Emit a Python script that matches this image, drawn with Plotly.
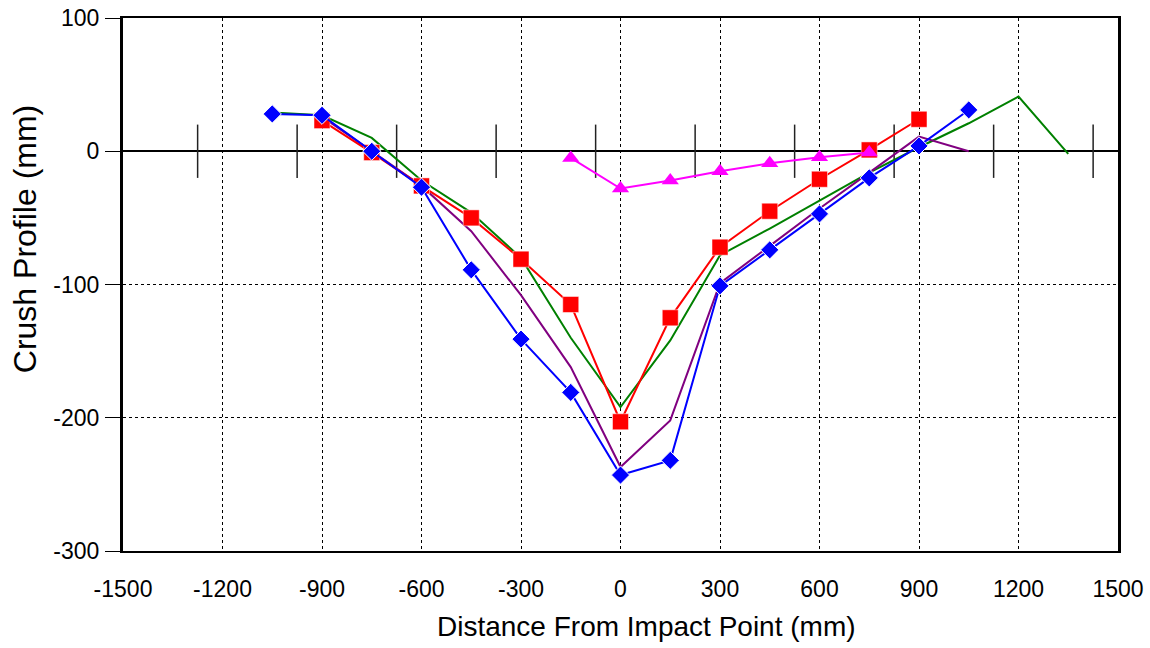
import plotly.graph_objects as go

# ---- data ----
blue_x = [-1050, -900, -750, -600, -450, -300, -150, 0, 150, 300, 450, 600, 750, 900, 1050]
blue_y = [28, 27, 0, -27, -89, -141, -181, -243, -232, -101, -74, -47, -20, 4, 31]

red_x = [-900, -750, -600, -450, -300, -150, 0, 150, 300, 450, 600, 750, 900]
red_y = [23, -1, -26, -50, -81, -115, -203, -125, -72, -45, -21, 1, 24]

magenta_x = [-150, 0, 150, 300, 450, 600, 750]
magenta_y = [-5, -28, -22, -15, -9, -4.5, -1]

green_x = [-1050, -900, -750, -600, -450, -300, -150, 0, 150, 300, 450, 600, 750, 900, 1050, 1200, 1350]
green_y = [29, 27, 10, -22, -46, -80, -140, -192, -142, -78, -58, -37, -16, 3, 21, 41, -2]

purple_x = [-900, -750, -600, -450, -300, -150, 0, 150, 300, 450, 600, 750, 900, 1050]
purple_y = [26, 0, -26, -60, -108, -162, -237, -202, -99, -71, -43, -16, 11, 0]

# reference marks along zero line
mark_x = [-1275, -975, -675, -375, -75, 225, 525, 825, 1125, 1425]
mark_half = 20

x_ticks = [-1500, -1200, -900, -600, -300, 0, 300, 600, 900, 1200, 1500]
y_ticks = [100, 0, -100, -200, -300]

x_title = "Distance From Impact Point (mm)"
y_title = "Crush Profile (mm)"

# ---- figure ----
fig = go.Figure()

mx, my = [], []
for v in mark_x:
    mx += [v, v, None]
    my += [-mark_half, mark_half, None]
fig.add_trace(go.Scatter(x=mx, y=my, mode="lines",
                         line=dict(color="#222222", width=1.5), hoverinfo="skip"))

fig.add_trace(go.Scatter(x=green_x, y=green_y, mode="lines",
                         line=dict(color="#008000", width=2)))
fig.add_trace(go.Scatter(x=purple_x, y=purple_y, mode="lines",
                         line=dict(color="#800080", width=2)))
fig.add_trace(go.Scatter(x=red_x, y=red_y, mode="lines+markers",
                         line=dict(color="#FF0000", width=2),
                         marker=dict(symbol="square", size=16, color="#FF0000",
                                     line=dict(color="white", width=0.5))))
fig.add_trace(go.Scatter(x=blue_x, y=blue_y, mode="lines+markers",
                         line=dict(color="#0000FF", width=2),
                         marker=dict(symbol="diamond", size=14, color="#0000FF",
                                     line=dict(color="white", width=1))))
fig.add_trace(go.Scatter(x=magenta_x, y=magenta_y, mode="lines+markers",
                         line=dict(color="#FF00FF", width=2),
                         marker=dict(symbol="triangle-up", size=15, color="#FF00FF")))

font_family = "Liberation Sans, Arial, sans-serif"

fig.update_layout(
    width=1150, height=648,
    margin=dict(l=123, r=32, t=18, b=97, autoexpand=False),
    paper_bgcolor="white", plot_bgcolor="white",
    showlegend=False,
    font=dict(family=font_family, color="black", size=23),
    annotations=[
        dict(text=x_title, xref="paper", yref="paper", x=0.5266, y=-0.142,
             xanchor="center", yanchor="middle", showarrow=False,
             font=dict(size=28, color="black")),
        dict(text=y_title, xref="paper", yref="paper", x=-0.0985, y=0.585,
             xanchor="center", yanchor="middle", showarrow=False, textangle=-90,
             font=dict(size=32, color="black")),
    ],
)

fig.update_xaxes(
    range=[-1500, 1500], tickvals=x_ticks, ticktext=[str(v) for v in x_ticks],
    showgrid=True, gridcolor="black", griddash="dot", gridwidth=1,
    zeroline=False, automargin=False,
    showline=True, linecolor="black", linewidth=2, mirror=True,
    ticks="", ticklabelstandoff=16,
    tickfont=dict(size=23, color="black"),
)
fig.update_yaxes(
    range=[-300, 100], tickvals=y_ticks, ticktext=[str(v) for v in y_ticks],
    showgrid=True, gridcolor="black", griddash="dot", gridwidth=1,
    zeroline=True, zerolinecolor="black", zerolinewidth=1.5,
    showline=True, linecolor="black", linewidth=3, mirror=True, automargin=False,
    ticks="outside", ticklen=15, tickwidth=1, tickcolor="black",
    tickfont=dict(size=23, color="black"), ticklabelstandoff=1,
)

fig.write_html("out.html", post_script="document.body.style.margin='0';",
               config={"displayModeBar": False})
